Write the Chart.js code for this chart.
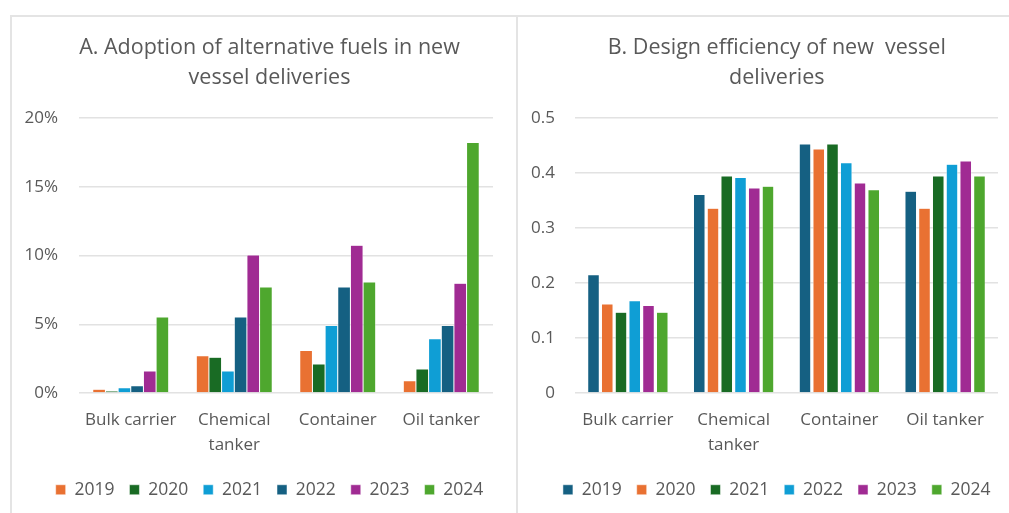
<!DOCTYPE html>
<html>
<head>
<meta charset="utf-8">
<script src="https://cdn.jsdelivr.net/npm/chart.js@4"></script>
<style>
  body { margin: 0; background: #fff; overflow: hidden; width: 1009px; height: 513px; position: relative; }
  .panel { position: absolute; top: 15px; height: 520px; width: 505px; border-top: 2px solid #e4e4e4; border-left: 2px solid #e4e4e4; }
  #panelA { left: 10px; }
  #panelB { left: 516px; }
  canvas { display: block; }
</style>
</head>
<body>
<div class="panel" id="panelA"><canvas id="chartA" width="520" height="496"></canvas></div>
<div class="panel" id="panelB"><canvas id="chartB" width="522" height="496"></canvas></div>
<script>
const categories = ["Bulk carrier", "Chemical tanker", "Container", "Oil tanker"];
const years = ["2019", "2020", "2021", "2022", "2023", "2024"];

// A. share of deliveries using alternative fuels (%)
const fuel2019 = [0.27, 2.72, 3.10, 0.90];
const fuel2020 = [0.15, 2.60, 2.11, 1.75];
const fuel2021 = [0.39, 1.60, 4.92, 3.95];
const fuel2022 = [0.53, 5.53, 7.71, 4.92];
const fuel2023 = [1.60, 10.04, 10.76, 7.98];
const fuel2024 = [5.53, 7.71, 8.07, 18.23];

// B. design efficiency
const eff2019 = [0.215, 0.361, 0.453, 0.367];
const eff2020 = [0.162, 0.336, 0.444, 0.336];
const eff2021 = [0.147, 0.395, 0.453, 0.395];
const eff2022 = [0.168, 0.392, 0.419, 0.416];
const eff2023 = [0.159, 0.373, 0.382, 0.422];
const eff2024 = [0.147, 0.376, 0.370, 0.395];

// axis ticks: [min, step, max]
const fuelTicks = [0, 5, 20];
const effTicks = [0, 0.1, 0.5];

const DARKBLUE = "#156082", ORANGE = "#E97132", DKGREEN = "#196B24",
      LTBLUE = "#0F9ED5", PURPLE = "#A02B93", GREEN = "#4EA72E";

Chart.defaults.font.family = "'Open Sans', Lato, sans-serif";
Chart.defaults.color = "#595959";

// wrap long category names onto two lines like the original
const wrapLabel = (c) => c === "Chemical tanker" ? ["Chemical", "tanker"] : c;

function makeChart(id, title, seriesList, colors, yTicks, tickFmt, opts) {
  new Chart(document.getElementById(id), {
    type: "bar",
    data: {
      labels: categories.map(wrapLabel),
      datasets: seriesList.map((s, i) => ({
        label: years[i],
        data: s,
        backgroundColor: colors[i],
        borderColor: "#ffffff",
        borderWidth: opts.border,
        categoryPercentage: opts.catPct,
        barPercentage: opts.barPct
      }))
    },
    options: {
      responsive: false,
      animation: false,
      layout: { padding: { left: 12, right: opts.padR, top: 0, bottom: 4.5 } },
      plugins: {
        title: {
          display: true,
          text: title,
          color: "#595959",
          font: { size: 21.5, weight: "normal", lineHeight: 1.4 },
          padding: { top: 16, bottom: 25 }
        },
        legend: {
          position: "bottom",
          labels: { boxWidth: 10, boxHeight: 10, padding: 15, color: "#595959", font: { size: 17.5 } }
        },
        tooltip: { enabled: false }
      },
      scales: {
        x: {
          grid: { display: false },
          border: { display: false },
          ticks: { padding: 7, color: "#595959", font: { size: 17, lineHeight: 1.47 } },
          afterFit: (s) => { s.height = 73; }
        },
        y: {
          min: yTicks[0],
          max: yTicks[2],
          grid: { color: "#e2e2e2", lineWidth: 1.5, drawTicks: false },
          border: { display: false },
          ticks: { stepSize: yTicks[1], padding: opts.tickPad, color: "#595959", font: { size: 17 }, callback: tickFmt },
          afterFit: (s) => { s.width = opts.yWidth; }
        },
        // empty spacer on the right so the title and legend sit centred like the original
        spacer: {
          position: "right",
          grid: { display: false },
          border: { display: false },
          ticks: { display: false },
          afterFit: (s) => { s.width = opts.spacer; }
        }
      }
    }
  });
}

makeChart("chartA",
  ["A. Adoption of alternative fuels in new", "vessel deliveries"],
  [fuel2019, fuel2020, fuel2021, fuel2022, fuel2023, fuel2024],
  [ORANGE, DKGREEN, LTBLUE, DARKBLUE, PURPLE, GREEN],
  fuelTicks, (v) => v + "%",
  { padR: 17, yWidth: 55, spacer: 22, tickPad: 21, catPct: 0.734, barPct: 1, border: 0.5 });

makeChart("chartB",
  ["B. Design efficiency of new  vessel", "deliveries"],
  [eff2019, eff2020, eff2021, eff2022, eff2023, eff2024],
  [DARKBLUE, ORANGE, DKGREEN, LTBLUE, PURPLE, GREEN],
  effTicks, (v) => v === 0 ? "0" : Number(v).toFixed(1),
  { padR: 16.5, yWidth: 45, spacer: 25.5, tickPad: 20, catPct: 0.78, barPct: 0.84, border: 0.5 });
</script>
</body>
</html>
